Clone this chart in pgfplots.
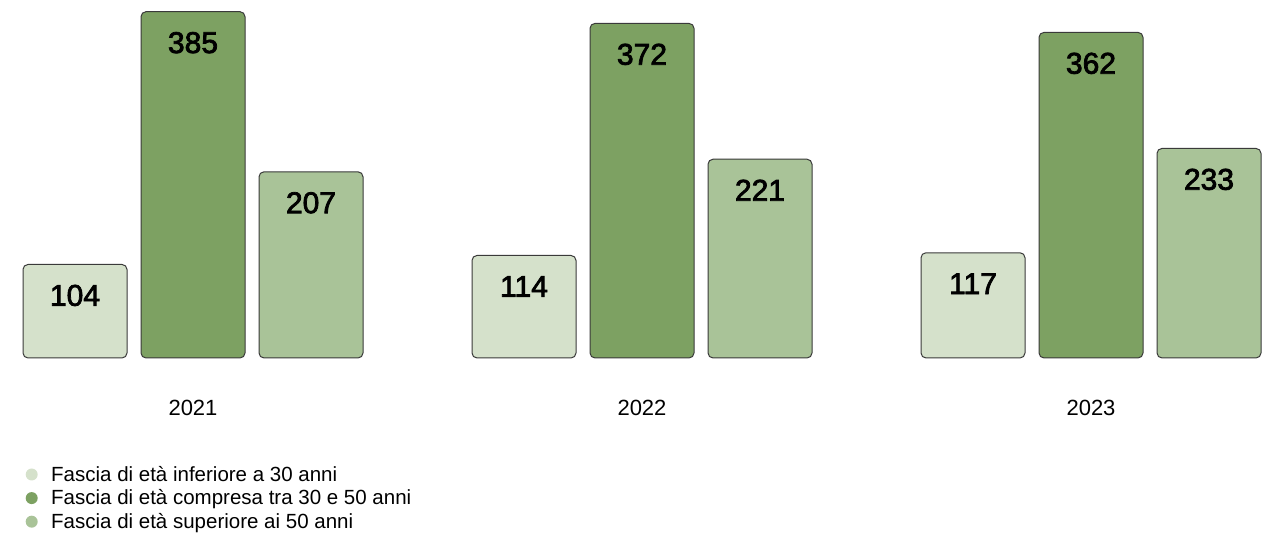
\documentclass[border=0pt]{standalone}
\usepackage{pgfplots}
\pgfplotsset{compat=1.18}
\usepackage{fontspec}
\setmainfont{Liberation Sans}
\newfontfamily\numfont[FakeBold=2.5]{Liberation Sans}
\definecolor{cLight}{HTML}{D5E1CB}
\definecolor{cDark}{HTML}{7DA162}
\definecolor{cMid}{HTML}{A9C398}
\definecolor{cEdge}{HTML}{3A3A3A}
\begin{document}
\begin{tikzpicture}
\useasboundingbox (0,0) rectangle (1278pt,541pt);
\begin{axis}[
  at={(0pt,183pt)}, anchor=south west,
  scale only axis,
  width=1278pt, height=358pt,
  xmin=0, xmax=1278, ymin=0, ymax=398,
  clip=false,
  ybar, bar width=104,
  axis line style={draw=none},
  tick style={draw=none},
  ytick=\empty,
  xtick={193,642,1091},
  xticklabels={2021,2022,2023},
  xticklabel style={anchor=center, yshift=-46pt, font=\fontsize{22}{26}\selectfont},
  /pgf/number format/assume math mode=true,
  nodes near coords,
  every node near coord/.append style={anchor=center, yshift=-31pt, font=\fontsize{30}{32}\selectfont\numfont, text=black},
  legend style={at={(axis description cs:0,0)}, anchor=north west, yshift=-104pt, xshift=22pt,
    draw=none, fill=none, font=\fontsize{20.5}{24}\selectfont, row sep=3pt},
  legend cell align=left,
  legend image code/.code={\path (-2pt,0pt) (21pt,0pt); \fill[#1,draw=none] (4pt,0pt) circle (6pt);},
]
\addplot[fill=cLight, draw=cEdge, line width=1pt, rounded corners=5pt, bar shift=-118] coordinates {(193,104) (642,114) (1091,117)};
\addplot[fill=cDark, draw=cEdge, line width=1pt, rounded corners=5pt, bar shift=0] coordinates {(193,385) (642,372) (1091,362)};
\addplot[fill=cMid, draw=cEdge, line width=1pt, rounded corners=5pt, bar shift=118] coordinates {(193,207) (642,221) (1091,233)};
\legend{Fascia di età inferiore a 30 anni, Fascia di età compresa tra 30 e 50 anni, Fascia di età superiore ai 50 anni}
\end{axis}
\end{tikzpicture}
\end{document}
